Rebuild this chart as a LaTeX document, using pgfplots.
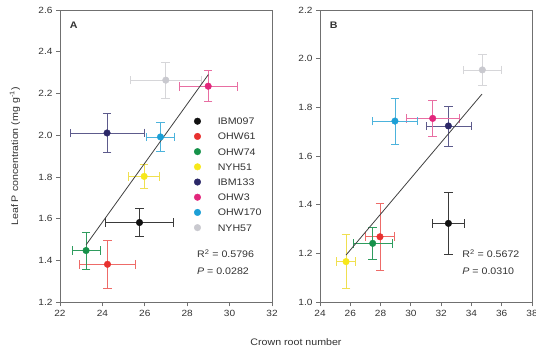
\documentclass[border=0pt]{standalone}
\usepackage{fontspec}
\setmainfont[FakeStretch=1.12]{Liberation Sans}
\usepackage{pgfplots}
\pgfplotsset{compat=1.18}
\definecolor{cA}{HTML}{111111}\definecolor{eA}{HTML}{3A3A3A}
\definecolor{cB}{HTML}{E8312F}\definecolor{eB}{HTML}{EE6B68}
\definecolor{cC}{HTML}{16924A}\definecolor{eC}{HTML}{2F9C5E}
\definecolor{cD}{HTML}{F7E81A}\definecolor{eD}{HTML}{F0E050}
\definecolor{cE}{HTML}{2B2868}\definecolor{eE}{HTML}{5D5B8C}
\definecolor{cF}{HTML}{E2267C}\definecolor{eF}{HTML}{E86EA2}
\definecolor{cG}{HTML}{1C9FD6}\definecolor{eG}{HTML}{4CB3DC}
\definecolor{cH}{HTML}{C9C9CF}\definecolor{eH}{HTML}{D6D6D9}
\definecolor{axgray}{HTML}{707070}
\definecolor{txt}{HTML}{333333}
\pgfplotsset{
  panel/.style={scale only axis, width=212pt, height=292.3pt,
    axis line style={axgray, line width=0.8pt},
    tick style={axgray, line width=0.8pt},
    tick align=outside, major tick length=4pt, tick pos=left,
    ticklabel style={font=\fontsize{9}{10}\selectfont, text=txt},
    /pgf/number format/assume math mode=true,
    clip=false},
  ser/.style n args={2}{only marks, mark=*, mark size=3.3pt, color=#1,
    mark options={draw=#1, fill=#1},
    error bars/.cd, x dir=both, x explicit, y dir=both, y explicit,
    error bar style={#2, line width=0.7pt},
    error mark=|,
    error mark options={#2, line width=0.7pt, mark size=4.3pt}},
}
\begin{document}
\begin{tikzpicture}[x=1pt,y=1pt]
\useasboundingbox (0,0) rectangle (536,353);
\begin{axis}[panel, at={(60pt,50.7pt)}, anchor=south west,
  xmin=22, xmax=32, ymin=1.2, ymax=2.6,
  xtick={22,24,...,32}, ytick={1.2,1.4,...,2.6},
  yticklabel style={/pgf/number format/.cd, fixed, fixed zerofill, precision=1},
  legend style={at={(axis cs:28.32,2.085)}, anchor=north west, draw=none, fill=none,
    inner sep=0pt, row sep=8.2pt, column sep=17pt,
    font=\fontsize{9.5}{10}\selectfont, text=txt,
    nodes={inner sep=0pt, text height=7pt, text depth=0pt, anchor=base west}},
  legend cell align=left,
  legend image code/.code={\draw[#1] plot coordinates {(3.3pt,3.5pt)};},
]
\addplot[ser={cA}{eA}] coordinates {(25.75,1.582) +- (1.61,0.067)};
\addplot[ser={cB}{eB}] coordinates {(24.24,1.382) +- (1.33,0.114)};
\addplot[ser={cC}{eC}] coordinates {(23.23,1.448) +- (0.67,0.088)};
\addplot[ser={cD}{eD}] coordinates {(25.97,1.803) +- (0.73,0.056)};
\addplot[ser={cE}{eE}] coordinates {(24.22,2.011) +- (1.75,0.095)};
\addplot[ser={cF}{eF}] coordinates {(28.99,2.235) +- (1.36,0.074)};
\addplot[ser={cG}{eG}] coordinates {(26.74,1.992) +- (0.65,0.068)};
\addplot[ser={cH}{eH}] coordinates {(26.99,2.264) +- (1.69,0.087)};
\legend{IBM097,OHW61,OHW74,NYH51,IBM133,OHW3,OHW170,NYH57}
\addplot[forget plot, black!75, line width=0.8pt] coordinates {(23.23,1.475) (29.0,2.291)};
\node[anchor=west, font=\bfseries\fontsize{9.5}{10}\selectfont, text=txt] at (rel axis cs:0.03,0.949) {A};
\node[anchor=west, font=\fontsize{9.5}{10}\selectfont, text=txt] at (rel axis cs:0.63,0.166) {R\textsuperscript{2} = 0.5796};
\node[anchor=west, font=\fontsize{9.5}{10}\selectfont, text=txt] at (rel axis cs:0.63,0.105) {\textit{P} = 0.0282};
\end{axis}
\begin{axis}[panel, at={(320pt,50.7pt)}, anchor=south west,
  xmin=24, xmax=38, ymin=1.0, ymax=2.2,
  xtick={24,26,...,38}, ytick={1.0,1.2,...,2.2},
  yticklabel style={/pgf/number format/.cd, fixed, fixed zerofill, precision=1},
]
\addplot[ser={cA}{eA}] coordinates {(32.48,1.324) +- (1.06,0.128)};
\addplot[ser={cB}{eB}] coordinates {(27.96,1.269) +- (0.94,0.137)};
\addplot[ser={cC}{eC}] coordinates {(27.48,1.242) +- (1.30,0.064)};
\addplot[ser={cD}{eD}] coordinates {(25.72,1.167) +- (0.64,0.110)};
\addplot[ser={cE}{eE}] coordinates {(32.48,1.724) +- (1.49,0.082)};
\addplot[ser={cF}{eF}] coordinates {(31.44,1.755) +- (1.76,0.075)};
\addplot[ser={cG}{eG}] coordinates {(28.95,1.744) +- (1.49,0.094)};
\addplot[ser={cH}{eH}] coordinates {(34.72,1.954) +- (1.27,0.064)};
\addplot[black!75, line width=0.8pt] coordinates {(25.72,1.194) (34.7,1.855)};
\node[anchor=west, font=\bfseries\fontsize{9.5}{10}\selectfont, text=txt] at (rel axis cs:0.03,0.949) {B};
\node[anchor=west, font=\fontsize{9.5}{10}\selectfont, text=txt] at (rel axis cs:0.655,0.166) {R\textsuperscript{2} = 0.5672};
\node[anchor=west, font=\fontsize{9.5}{10}\selectfont, text=txt] at (rel axis cs:0.655,0.105) {\textit{P} = 0.0310};
\end{axis}
\node[rotate=90, font=\fontsize{9.5}{10}\selectfont, text=txt] at (15,196.5) {Leaf P concentration (mg g\textsuperscript{-1})};
\node[font=\fontsize{9.5}{10}\selectfont, text=txt] at (296,11) {Crown root number};
\end{tikzpicture}
\end{document}
